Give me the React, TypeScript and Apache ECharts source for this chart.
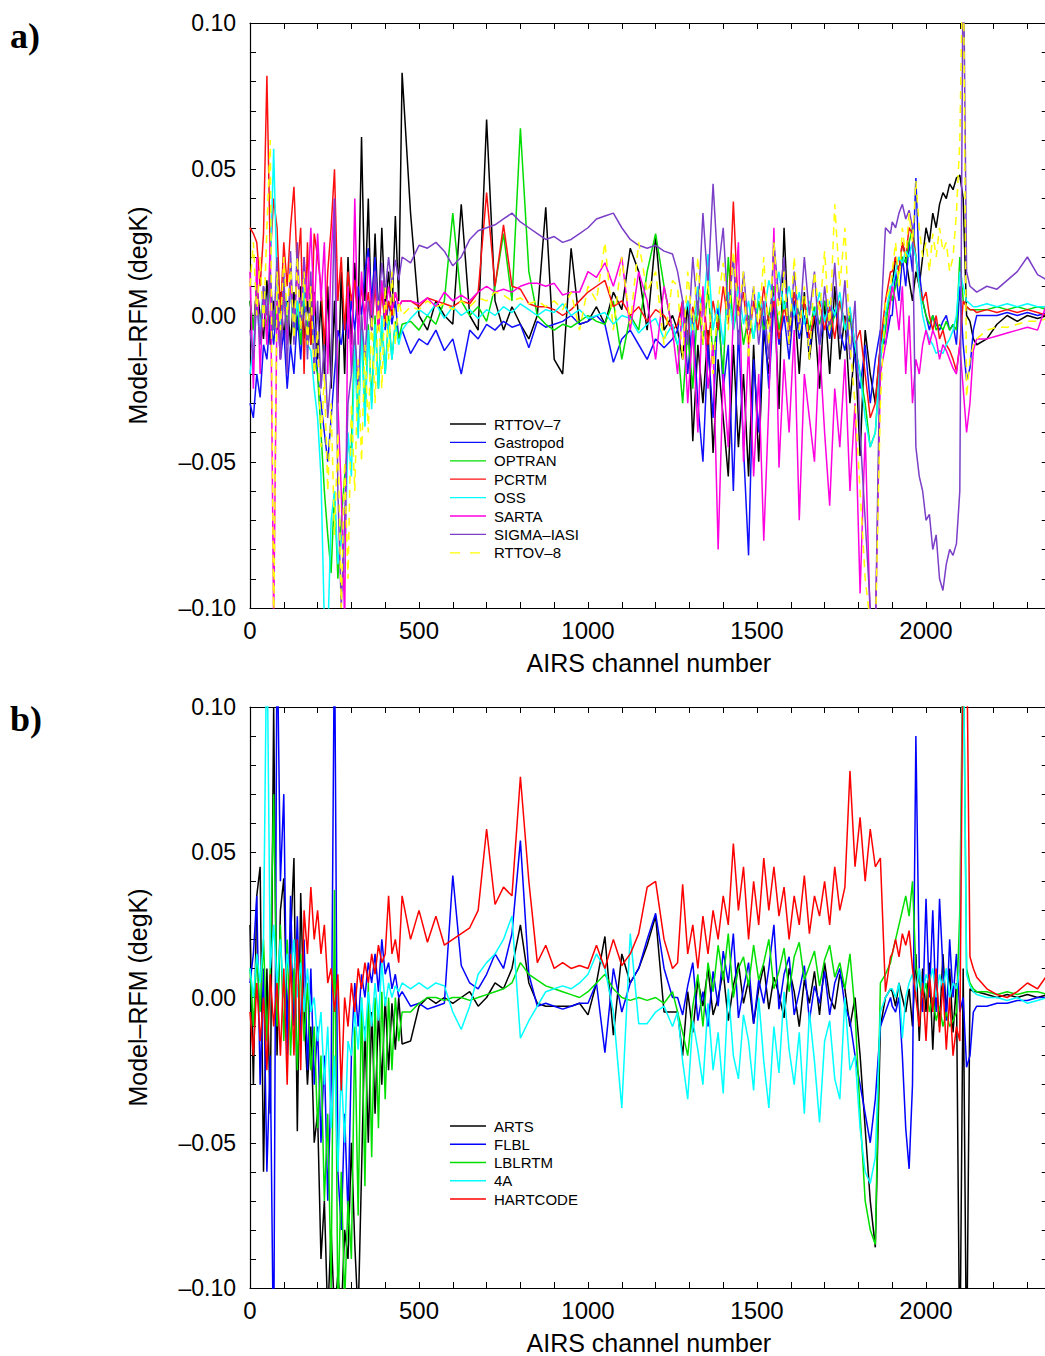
import React, { useEffect, useRef } from "react";
import * as echarts from "echarts";

// AIRS channel sample positions (x), grouped by spectral region
const CH_A = [0,10,20,30,40,50,60,70,80,90,100,110,120,130,140,150,160,170,180,190,200,210,220,230,240,250,260,270,280,290,300,310,320,330,340,350,360,370,380,390,400,410,420,430,440,450];
const CH_B = [475,500,525,550,575,600,625,650,675,700,725,750,775,800,825,850,875,900,925,950,975,1000,1025,1050,1075,1100,1125,1150,1175,1200,1225,1250];
const CH_C = [1265,1280,1295,1310,1325,1340,1355,1370,1385,1400,1415,1430,1445,1460,1475,1490,1505,1520,1535,1550,1565,1580,1595,1610,1625,1640,1655,1670,1685,1700,1715,1730,1745,1760,1775,1790,1805,1820,1835,1850,1865,1880,1895];
const CH_D = [1900,1910,1920,1930,1940,1950,1960,1970,1980,1990,2000,2010,2020,2030,2040,2050,2060,2070,2080,2090,2100,2110,2120,2130,2140,2150];
const CH_E = [2180,2210,2240,2270,2300,2330,2360];
const CHANNELS = [...CH_A, ...CH_B, ...CH_C, ...CH_D, ...CH_E];

// Panel a: Model - RFM, in milli-K
const RTTOV7 = [
  5,-5,10,0,-8,12,-10,5,-5,8, -8,5,-10,8,-5,10,-8,5,-10,8, -15,5,-20,10,-25,5,-30,15,-20,20, -10,18,0,61,5,40,-5,28,-2,30, 2,15,0,34,5,83,
  35,0,-5,5,0,-3,38,0,-5,67, 5,-5,3,-3,-8,0,37,-15,-20,23, -3,-2,3,-3,8,2,23,15,-5,27, -5,0,
  -5,-15,5,-43,-10,-30,-5,-47,-15,-35, -55,-10,-45,-20,-55,-10,-50,-5,-20,10, -32,30,-10,5,-20,8,-15,0,-25,5, -20,10,-15,0,-30,-10,-48,-5,-20,-30, -10,0,5,
  10,20,15,25,20,12,5,15,10,20, 30,25,35,30,38,42,40,45,43,47, 48,40,0,-2,-8,-10,
  -8,-3,0,-2,0,-1,0,
];
const GASTROPOD = [
  -30,-35,-20,-28,-10,-15,0,-10,5,-15, -5,-25,-10,-20,0,-15,5,-10,10,-5, -20,-30,-40,-50,-35,-20,-5,-10,0,-8, 5,-5,10,0,15,23,5,20,0,10, -5,5,-3,5,-8,-5,
  -13,-8,-10,-5,-12,-8,-20,-5,-8,-3, -5,-2,-4,-3,-11,-2,-4,-3,-2,0, -3,-2,0,-3,-16,-8,-5,-10,-15,-8, -11,-8,
  -5,5,-20,0,-30,-50,-10,-35,5,-25, -10,-60,-5,-45,-82,-15,-40,0,-25,5, -10,0,-15,5,-8,0,-12,3,-10,0, -8,2,-5,-12,0,-15,-25,-10,-30,-15, -5,-10,0,
  0,15,5,20,10,25,15,47,15,5, 0,-5,0,-3,-5,-2,0,-5,-3,-10, 10,-10,-22,-18,-5,0,
  0,0,1,0,1,0,1,
];
const OPTRAN = [
  5,-5,10,-8,8,-5,12,-5,5,-10, 8,-5,10,-8,5,-10,8,-5,5,-15, -20,-40,-60,-75,-88,-60,-90,-70,-55,-45, -45,-5,-40,0,-35,-3,-30,0,-25,-2, -20,0,-15,-2,-8,-3,
  -2,-5,0,-3,5,35,5,0,3,-2, 10,28,5,64,15,0,-3,-5,-3,-4, -2,0,-2,-3,5,-15,0,-5,15,28, 10,-5,
  -10,-30,-5,-25,5,-10,10,-15,0,-20, 20,-5,5,-10,0,-8,5,-5,0,10, -5,5,-3,8,0,5,-5,3,-3,5, -5,0,5,-5,0,-10,-20,-30,-45,-40, -15,-5,10,
  5,10,15,20,18,25,30,20,10,5, 0,-3,0,-5,-3,-5,-2,-5,-3,-5, 20,5,3,2,2,2,
  2,3,2,3,2,3,2,
];
const PCRTM = [
  30,28,25,10,28,82,20,40,30,0, 25,10,30,44,15,30,-20,25,-10,28, 20,10,-10,15,30,50,5,20,-5,15, 5,12,-5,10,0,8,-5,10,-5,8, -2,5,0,8,3,5,
  5,3,6,5,4,3,5,4,8,42, 10,31,10,9,4,3,3,2,0,2, 5,8,10,12,3,5,0,3,-2,2, 0,-5,
  -3,5,-8,3,-5,8,-10,5,-5,10, -3,39,0,8,-10,5,-5,10,-3,5, -8,3,-5,8,-3,5,-8,0,5,-5, 3,-8,5,-3,2,-10,-5,-20,-35,-30, -10,5,15,
  15,20,15,25,20,30,28,20,10,5, 8,0,-5,0,-8,-5,-10,-12,-15,-19, -10,5,3,2,2,1,
  2,1,2,1,2,1,0,
];
const OSS = [
  -20,-10,5,-5,10,0,15,57,10,-5, 10,0,8,-5,5,-5,10,-10,-12,-25, -35,-55,-105,-110,-70,-60,-85,-75,-88,-40, -55,-10,-42,-5,-38,-5,-32,-3,-25,0, -20,-2,-15,-3,-10,-5,
  -1,2,0,4,-1,3,0,2,-1,2, 0,3,1,4,2,0,2,1,4,0, 2,-1,0,1,-3,0,-1,-6,-3,-1, -8,-3,
  -10,-3,5,-8,10,0,21,-5,5,-10, 8,-5,10,-3,5,-8,8,0,12,5, 15,2,10,0,8,-3,5,0,8,-2, 5,0,8,-5,3,-10,-20,-35,-45,-40, -15,0,10,
  10,15,20,18,22,20,25,20,10,0, -5,-8,-10,-13,-12,-13,-10,-8,-5,0, 15,10,5,4,3,3,
  4,3,4,3,4,3,3,
];
const SARTA = [
  15,-25,20,-20,10,-10,25,-105,5,-15, 10,-10,12,-5,15,0,20,5,30,0, 28,5,25,-20,20,40,-30,-60,-105,10, -20,40,-10,15,-5,20,0,15,-5,12, 0,10,2,8,3,5,
  5,4,6,3,8,5,7,5,8,10, 8,9,8,10,11,11,10,11,7,8, 8,15,13,18,10,20,-5,15,5,-15, 10,-5,
  -20,5,-30,-5,-40,10,-25,-10,-80,-20, -45,0,25,-50,-10,-55,-20,-77,-30,30, -52,-15,-40,-5,-70,-20,-35,-50,-10,-40, -65,-25,-45,-15,-60,-30,-95,-40,-105,-110, -20,-10,5,
  10,5,-5,10,-20,0,-30,-15,-20,-10, -5,-10,-5,-8,-15,-10,-12,-15,-18,-20, -10,-25,-40,-30,-12,-8,
  -8,-7,-6,-5,-4,-5,5,
];
const SIGMA_IASI = [
  -5,-15,5,-10,10,0,15,-5,20,-15, 15,-20,22,-10,25,-5,20,-15,15,-20, 5,-25,-10,-35,-20,40,-60,-100,-70,-30, -20,-5,-25,0,-15,5,-5,15,2,18, 8,20,10,19,12,20,
  18,24,23,25,22,17,20,26,29,30, 31,33,35,32,30,28,26,27,25,26, 28,30,33,34,35,30,26,24,23,24, 22,21,
  15,5,-10,20,0,35,10,45,15,30, 0,20,-10,15,-5,10,-10,5,-15,25, 5,20,-10,15,-5,20,0,15,-10,10, -5,18,-8,12,-15,5,-40,-70,-100,-110, -5,30,28,
  32,30,35,38,33,36,30,-45,-55,-60, -70,-68,-80,-75,-90,-94,-85,-80,-82,-78, -60,130,15,10,9,8,
  10,9,12,15,20,14,12,
];
const RTTOV8 = [
  10,25,0,20,-5,30,60,-110,15,-5, 20,0,18,-8,20,-5,15,-10,10,-20, -5,-45,-20,-60,-30,-75,-40,-100,-50,-90, -30,-60,-15,-50,-10,-40,0,-30,5,-25, 10,-15,15,-10,5,0,
  3,2,5,3,4,2,5,3,6,5, 8,7,5,6,4,5,3,5,2,8, -5,10,5,25,-5,20,-3,25,8,15, -10,12,
  10,-15,15,-5,20,-10,12,-20,5,18, -5,22,0,15,-15,10,-5,20,-10,25, 0,15,-10,20,-5,10,-15,15,0,22, -5,38,10,30,-10,-30,-60,-90,-105,-110, -30,5,10,
  15,25,10,30,20,35,25,46,30,20, 25,15,28,20,30,22,25,15,20,35, 60,130,-28,-15,-10,-8,
  -5,-4,-4,-3,-2,-2,-1,
];

// Panel b: Model - RFM, in milli-K
const ARTS = [
  25,-30,35,45,-60,10,-40,100,-20,30, 41,-10,20,48,-46,36,-5,-30,-10,-50, -40,-90,-70,-110,-80,-110,-95,-110,-80,-90, -50,-85,-110,-60,-10,-50,-5,-40,-5,-30, 0,-25,-2,-18,0,-16,
  -15,-3,0,-2,0,-2,0,2,-3,0, 5,3,10,25,5,-2,-3,-3,-3,-3, -2,-6,5,21,-13,15,5,10,18,28, -5,-5,
  -5,-20,2,-12,6,-3,10,-6,0,9, -8,4,12,-2,6,-9,3,11,-4,7, 1,-7,10,2,-10,6,-2,9,-6,12, 0,-4,8,3,-10,0,-20,-45,-70,-86, -10,0,3,
  2,-3,5,0,-5,3,-10,15,-15,10, -5,12,-18,8,-10,15,-5,10,-12,5, -130,10,-130,3,2,2,
  1,0,1,0,1,0,1,
];
const FLBL = [
  5,15,35,-30,10,-60,-20,-130,130,40, 70,-20,35,-10,28,-15,20,-25,10,-30, -10,-50,-20,-70,-30,130,-60,-80,-40,-75, -20,5,-10,8,0,12,5,15,2,20, 8,12,3,8,0,2,
  -3,-2,-4,-3,-2,42,11,5,3,8, 15,10,22,54,8,-3,-2,-3,-4,-3, -2,-2,5,-19,10,-5,5,10,20,29, 10,0,
  0,-6,4,12,-8,2,-10,9,-3,16, 5,22,-7,3,12,-9,6,-2,10,25, -4,8,14,-6,2,11,-8,4,-2,9, -6,5,10,-3,-8,-20,-30,-40,-50,-35, -10,-5,0,
  -3,-5,0,-20,-45,-59,-30,90,10,-5, 34,0,30,-5,34,10,-8,20,0,15, -5,0,-24,-20,-5,-3,
  -3,-2,-2,-1,-1,0,0,
];
const LBLRTM = [
  10,-10,15,-5,20,-15,10,70,-10,25, -15,20,-20,10,-25,15,-15,5,-25,-10, -45,-20,-70,-40,-100,37,-110,-60,-105,-70, -90,-10,-75,0,-65,5,-55,0,-45,2, -35,0,-25,0,-15,-5,
  -5,-2,0,0,-1,0,0,-1,0,1, 2,3,5,12,8,6,4,3,2,1, 0,2,5,8,3,0,-1,0,-1,0, -2,2,
  -5,-12,-20,-3,8,-10,12,2,18,6, 22,0,10,14,4,18,6,12,20,3, 9,17,2,14,19,6,11,16,4,13, 18,7,12,3,15,-5,-40,-70,-80,-85, 5,8,12,
  15,20,25,30,35,28,40,10,5,0, 5,-5,0,-8,-3,-10,-5,-10,-8,-5, 30,130,10,5,3,2,
  2,1,2,1,2,2,1,
];
const FOUR_A = [
  10,0,15,5,20,130,10,25,5,20, 0,15,5,20,0,12,-5,10,-5,0, -15,-5,-30,-10,-45,-20,-60,-25,-50,-15, -20,-5,-18,0,-15,2,-10,5,-8,12, -3,5,0,4,2,5,
  3,5,3,5,4,-5,-11,-3,8,12, 15,20,28,-14,-8,-3,2,3,4,3, 5,8,15,10,-5,-38,22,-9,-9,-5, -3,-10,
  -5,-22,-35,-8,-18,-30,-2,-25,-12,-33, 3,-20,-28,-6,-15,-32,0,-22,-38,-10, -26,2,-18,-30,-12,-40,-5,-22,-43,-15, -8,-28,-35,0,-25,-20,-45,-60,-64,-55, -5,0,3,
  3,0,5,-14,0,5,8,2,10,0, 8,5,10,0,8,3,10,0,5,3, 10,130,8,4,2,1,
  0,0,-1,0,-2,-1,0,
];
const HARTCODE = [
  -5,-20,5,-15,0,-25,8,-10,5,-20, 10,-30,15,-20,20,-25,30,15,38,20, 30,15,25,5,10,-5,8,-32,0,-10, 5,-5,10,3,12,5,15,8,18,12, 15,35,15,20,12,35,
  20,30,19,28,18,20,22,24,30,58, 32,38,35,76,40,12,18,10,12,10, 11,10,18,10,20,11,15,22,38,40, 20,10,
  12,39,15,25,10,28,15,30,20,35, 25,53,30,45,20,40,25,48,30,45, 28,38,20,35,25,42,22,35,28,40, 25,45,30,38,78,45,62,40,58,45, 48,2,14,
  15,20,14,22,18,23,10,0,-10,5, -15,8,-5,10,-12,5,-18,0,-20,-10, -15,130,130,14,10,7,
  3,1,0,2,5,3,8,
];

const X_TICKS_LABELLED = [0, 500, 1000, 1500, 2000];
const Y_TICK_LABELS = ["0.10", "0.05", "0.00", "–0.05", "–0.10"];

const PANEL_A = [
  { name: "RTTOV–7", color: "#000000", values: RTTOV7 },
  { name: "Gastropod", color: "#1010ff", values: GASTROPOD },
  { name: "OPTRAN", color: "#00dd00", values: OPTRAN },
  { name: "PCRTM", color: "#ff1010", values: PCRTM },
  { name: "OSS", color: "#00ffff", values: OSS },
  { name: "SARTA", color: "#ff00e0", values: SARTA },
  { name: "SIGMA–IASI", color: "#7b3fc8", values: SIGMA_IASI },
  { name: "RTTOV–8", color: "#ffff00", values: RTTOV8, dashed: true },
];
const PANEL_B = [
  { name: "ARTS", color: "#000000", values: ARTS },
  { name: "FLBL", color: "#0000ff", values: FLBL },
  { name: "LBLRTM", color: "#00e000", values: LBLRTM },
  { name: "4A", color: "#00ffff", values: FOUR_A },
  { name: "HARTCODE", color: "#ff0000", values: HARTCODE },
];

const FONT = "'Liberation Sans', Arial, Helvetica, sans-serif";
const X0 = 250;
const PLOT_W = 797.7;
const XMAX = 2360;
const GRIDS = [
  { top: 23, height: 585, legendTop: 424, legendStep: 18.4, tag: "a)", tagY: 36 },
  { top: 707, height: 583, legendTop: 1126, legendStep: 18.25, tag: "b)", tagY: 719 },
];

function yLabel(v: number): string {
  const k = Math.round(v * 100);
  if (k % 5 !== 0) return "";
  const idx = Math.round((0.1 - v) / 0.05);
  return Y_TICK_LABELS[idx] ?? "";
}

export default function App() {
  const ref = useRef<HTMLDivElement>(null);
  useEffect(() => {
    if (!ref.current) return;
    const chart = echarts.init(ref.current, null, { renderer: "svg" });
    const tick = { inside: true, length: 6, lineStyle: { color: "#000", width: 1 } };
    const line = { show: true, onZero: false, lineStyle: { color: "#000", width: 1.2 } };
    const xAxis: any[] = [];
    const yAxis: any[] = [];
    GRIDS.forEach((g, gi) => {
      xAxis.push({
        type: "value", gridIndex: gi, position: "bottom", min: 0, max: XMAX, interval: 100,
        axisLine: line, axisTick: tick, splitLine: { show: false },
        axisLabel: {
          formatter: (v: number) => (X_TICKS_LABELLED.includes(v) ? String(v) : ""),
          fontSize: 24, color: "#000", fontFamily: FONT, margin: 10,
        },
        name: "AIRS channel number", nameLocation: "middle", nameGap: 42,
        nameTextStyle: { fontSize: 25, color: "#000", fontFamily: FONT },
      });
      xAxis.push({
        type: "value", gridIndex: gi, position: "top", min: 0, max: XMAX, interval: 100,
        axisLine: line, axisTick: tick, splitLine: { show: false }, axisLabel: { show: false },
      });
      yAxis.push({
        type: "value", gridIndex: gi, position: "left", min: -0.1, max: 0.1, interval: 0.01,
        axisLine: line, axisTick: tick, splitLine: { show: false },
        axisLabel: { formatter: yLabel, fontSize: 23, color: "#000", fontFamily: FONT, margin: 14 },
        name: "Model–RFM (degK)", nameLocation: "middle", nameGap: 100,
        nameTextStyle: { fontSize: 25, color: "#000", fontFamily: FONT },
      });
      yAxis.push({
        type: "value", gridIndex: gi, position: "right", min: -0.1, max: 0.1, interval: 0.01,
        axisLine: line, axisTick: tick, splitLine: { show: false }, axisLabel: { show: false },
      });
    });

    const series: any[] = [];
    const graphic: any[] = [];
    [PANEL_A, PANEL_B].forEach((panel, pi) => {
      const g = GRIDS[pi];
      panel.forEach((s: any, si: number) => {
        series.push({
          type: "line", name: s.name, xAxisIndex: pi * 2, yAxisIndex: pi * 2,
          data: CHANNELS.map((c, i) => [c, s.values[i] / 1000]),
          symbol: "none", clip: true, silent: true,
          lineStyle: { color: s.color, width: 1.5, type: s.dashed ? [8, 6] : "solid" },
          itemStyle: { color: s.color },
          z: 2 + si,
        });
        const y = g.legendTop + si * g.legendStep;
        graphic.push({
          type: "line", shape: { x1: 450, y1: y, x2: 486, y2: y },
          style: { stroke: s.color, lineWidth: 1.3, lineDash: s.dashed ? [10, 10] : null }, z: 100,
        });
        graphic.push({
          type: "text", x: 494, y, z: 100,
          style: { text: s.name, fontSize: 15, fontFamily: FONT, fill: "#000", verticalAlign: "middle", align: "left" },
        });
      });
      graphic.push({
        type: "text", x: 10, y: g.tagY, z: 100,
        style: { text: g.tag, fontSize: 36, fontWeight: "bold", fontFamily: "'Liberation Serif', 'Times New Roman', serif", fill: "#000", verticalAlign: "middle" },
      });
    });

    chart.setOption({
      animation: false,
      backgroundColor: "#ffffff",
      grid: GRIDS.map((g) => ({ left: X0, top: g.top, width: PLOT_W, height: g.height })),
      xAxis, yAxis, series, graphic,
    });
    return () => chart.dispose();
  }, []);

  return (
    <div style={{ position: "fixed", left: 0, top: 0, width: 1045, height: 1356, overflow: "hidden", background: "#fff" }}>
      <div ref={ref} style={{ width: 1060, height: 1356 }} />
    </div>
  );
}
